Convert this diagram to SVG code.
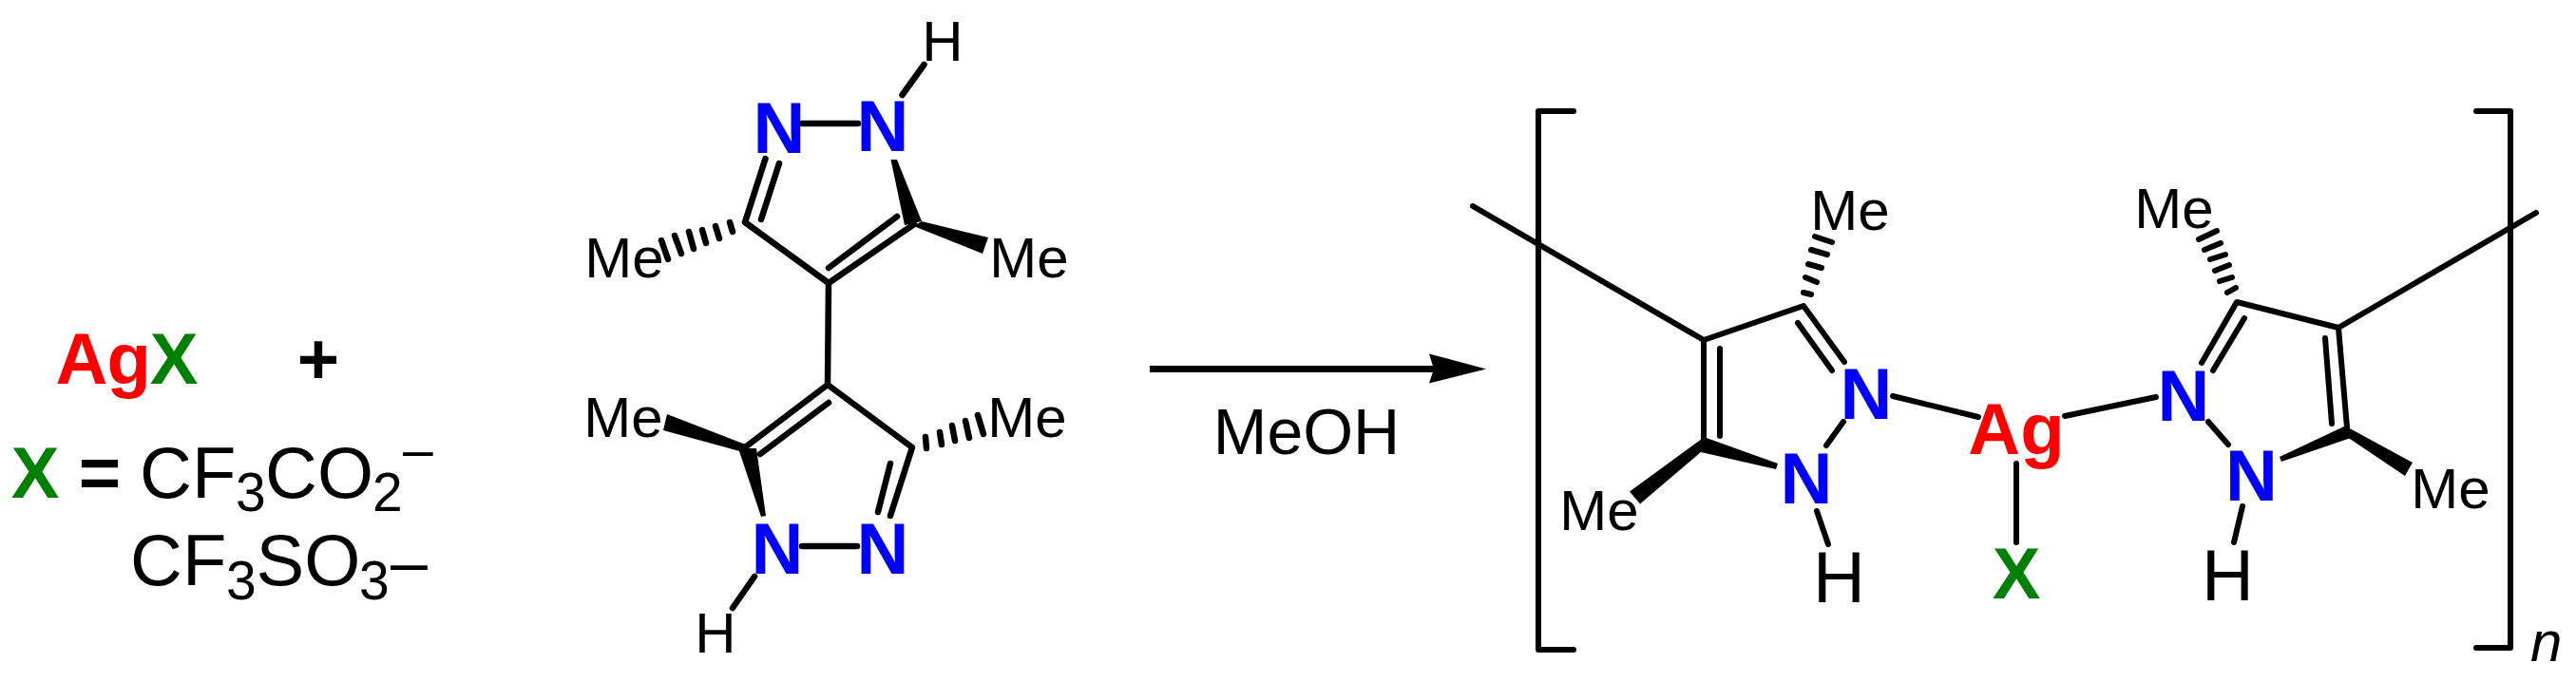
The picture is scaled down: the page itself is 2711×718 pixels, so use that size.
<svg xmlns="http://www.w3.org/2000/svg" width="2711" height="718" viewBox="0 0 2711 718">
<style>
text{font-family:"Liberation Sans",Arial,sans-serif;fill:#000}
.a{font-size:76px;font-weight:bold;text-anchor:middle}
.n{fill:#0000ff}.r{fill:#ff0000}.g{fill:#008000}
.h{font-size:76px;text-anchor:middle}
.m{font-size:60px;text-anchor:middle}
.b{font-size:76px}
.s{font-size:57px}
.l line,.l path{stroke:#000;stroke-linecap:round;stroke-linejoin:round;fill:none}
.t line,.t path{stroke-width:6.5}
.u line,.u path{stroke-width:6}
.w{fill:#000;stroke:none}
</style>
<rect width="2711" height="718" fill="#fff"/>
<g id="reagents">
<text x="58.5" y="404" class="b" letter-spacing="-1" style="font-weight:bold"><tspan class="r">Ag</tspan><tspan class="g">X</tspan></text>
<text x="335" y="404" class="a">+</text>
<text x="37" y="523.5" class="a g">X</text>
<text x="105" y="523.5" class="a">=</text>
<text x="147" y="523.5" class="b">CF<tspan class="s" dy="14.5" x="248">3</tspan><tspan dy="-14.5" x="279">CO</tspan><tspan class="s" dy="14.5" x="392">2</tspan><tspan class="s" dy="-45" x="424">–</tspan></text>
<text x="137" y="616" class="b">CF<tspan class="s" dy="15" x="238">3</tspan><tspan dy="-15" x="269.5">SO</tspan><tspan class="s" dy="15" x="378">3</tspan><tspan dy="-15" x="411" font-size="70">–</tspan></text>
</g>
<g id="ligand">
<g class="l t">
<line x1="844" y1="130" x2="903" y2="130"/>
<line x1="949.5" y1="100" x2="972.5" y2="68"/>
<path d="M805.5 167L784 234L872 298L962 236"/>
<line x1="820" y1="172" x2="801" y2="231"/>
<line x1="944" y1="228" x2="872" y2="282"/>
<line x1="872" y1="298" x2="871" y2="405"/>
<path d="M784 471L871 405L960 471L937 543"/>
<line x1="872" y1="424" x2="800" y2="478"/>
<line x1="937" y1="488" x2="924" y2="539"/>
<line x1="844" y1="575" x2="902" y2="575"/>
<line x1="794" y1="607" x2="771" y2="640"/>
<line x1="768" y1="234" x2="771" y2="244"/>
<line x1="753" y1="238" x2="757" y2="251"/>
<line x1="739" y1="242" x2="743" y2="256"/>
<line x1="725" y1="244" x2="730" y2="262"/>
<line x1="710" y1="248" x2="717" y2="267"/>
<line x1="696" y1="253" x2="703" y2="273"/>
<line x1="974" y1="460" x2="975" y2="472"/>
<line x1="989" y1="455" x2="991" y2="468"/>
<line x1="1002" y1="448" x2="1005" y2="464"/>
<line x1="1016" y1="443" x2="1020" y2="461"/>
<line x1="1029" y1="437" x2="1035" y2="457"/>
</g>
<polygon class="w" points="937.5,168 944,168 970,233 952,237"/>
<polygon class="w" points="970,233 1040,250 1034,267 961.5,238"/>
<polygon class="w" points="801,544 806,543 796,472 777,472"/>
<polygon class="w" points="790,470 702,436 698,453 782,476"/>
<text x="820" y="161" class="a n">N</text>
<text x="929" y="159" class="a n">N</text>
<text x="818" y="604" class="a n">N</text>
<text x="929" y="604" class="a n">N</text>
<text x="992" y="64" class="m">H</text>
<text x="753" y="687" class="m">H</text>
<text x="657" y="292" class="m">Me</text>
<text x="1083" y="292" class="m">Me</text>
<text x="656" y="460" class="m">Me</text>
<text x="1081" y="460" class="m">Me</text>
</g>
<g id="connectors">
<line x1="1210" y1="388.5" x2="1510" y2="388.5" stroke="#000" stroke-width="7"/>
<polygon class="w" points="1504,372.5 1564,388.5 1504,403.5 1509,388.5"/>
</g>
<text id="reagent-label" x="1375" y="478" font-size="68" text-anchor="middle">MeOH</text>
<g id="product">
<g class="l u">
<path d="M1656 117H1619V684H1656"/>
<path d="M2606 117H2642V682H2606"/>
<line x1="1550" y1="217" x2="1793" y2="358"/>
<path d="M1941 381L1898 322L1793 358V462"/>
<line x1="1892" y1="340" x2="1928" y2="390"/>
<line x1="1810" y1="367" x2="1810" y2="459"/>
<line x1="1940" y1="444" x2="1922" y2="469"/>
<line x1="1912" y1="538" x2="1924" y2="573"/>
<line x1="1992" y1="417" x2="2082" y2="439"/>
<line x1="2122" y1="488" x2="2122" y2="571"/>
<line x1="2173" y1="438" x2="2269" y2="418"/>
<line x1="2324" y1="444" x2="2345" y2="468"/>
<path d="M2317 382L2354 318L2461 345L2470 450"/>
<line x1="2329" y1="390" x2="2362" y2="335"/>
<line x1="2461" y1="345" x2="2669" y2="224"/>
<line x1="2447" y1="356" x2="2454" y2="446"/>
<line x1="2360" y1="533" x2="2351" y2="571"/>
<line x1="1898" y1="308" x2="1906" y2="310"/>
<line x1="1900" y1="292" x2="1912" y2="297"/>
<line x1="1903" y1="278" x2="1917" y2="282"/>
<line x1="1906" y1="263" x2="1923" y2="268"/>
<line x1="1910" y1="249" x2="1928" y2="255"/>
<line x1="2344" y1="308" x2="2353" y2="303"/>
<line x1="2336" y1="296" x2="2349" y2="292"/>
<line x1="2331" y1="285" x2="2346" y2="279"/>
<line x1="2326" y1="273" x2="2342" y2="268"/>
<line x1="2320" y1="263" x2="2337" y2="256"/>
<line x1="2314" y1="252" x2="2333" y2="243"/>
</g>
<polygon class="w" points="1793,460 1871,488 1869,494 1790,476"/>
<polygon class="w" points="1791,462 1797,470 1726,530.5 1715,517.5"/>
<polygon class="w" points="2469,448 2474,461 2401,486 2399,481"/>
<polygon class="w" points="2471,450 2539,487 2531,501 2467,458"/>
<text x="1964" y="441" class="a n">N</text>
<text x="1901" y="530" class="a n">N</text>
<text x="2298" y="443" class="a n">N</text>
<text x="2369.5" y="527" class="a n">N</text>
<text x="2122" y="478" class="a r">Ag</text>
<text x="2122" y="630" class="a g">X</text>
<text x="1935.5" y="634" class="h">H</text>
<text x="2344.5" y="632" class="h">H</text>
<text x="1947" y="242" class="m">Me</text>
<text x="1683" y="558" class="m">Me</text>
<text x="2288" y="240" class="m">Me</text>
<text x="2579" y="535" class="m">Me</text>
<text x="2663" y="696" font-size="60" font-style="italic">n</text>
</g>
</svg>
